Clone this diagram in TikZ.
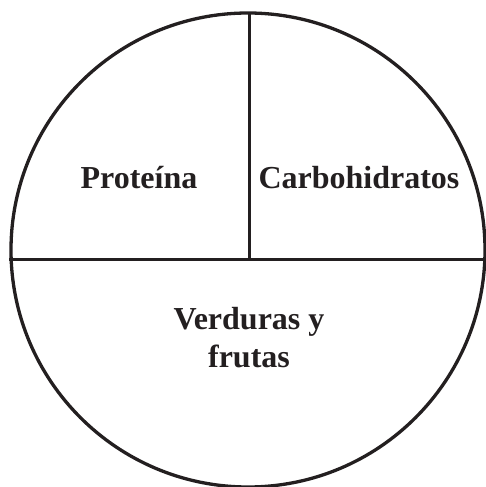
\documentclass[tikz,border=0pt]{standalone}
\usepackage{fontspec}
\setmainfont{Liberation Serif}
\usepackage{xcolor}
\usepackage{tikz}
\definecolor{plateink}{RGB}{35, 31, 32}

\begin{document}
\begin{tikzpicture}[
          x=1pt, y=-1pt,
          platerim/.style={draw=plateink, line width=3.3pt},
          divider/.style={draw=plateink, line width=3pt},
          foodlabel/.style={anchor=base, align=center, text=plateink, font=\fontsize{32}{38}\selectfont\bfseries}
        ]
          \useasboundingbox (0,0) rectangle (486,487);
          % plate and dividers
          \draw[platerim] (248,250) circle[radius=237pt];
          \draw[divider] (9,259) -- (484,259);
          \draw[divider] (249,13) -- (249,259);

          \node[foodlabel] (prot) at (139,188) {Proteína};
          \node[foodlabel] (carb) at (359,188) {Carbohidratos};
          \node[foodlabel] (verd) at (249,367) {Verduras y\\frutas};
        \end{tikzpicture}
\end{document}
